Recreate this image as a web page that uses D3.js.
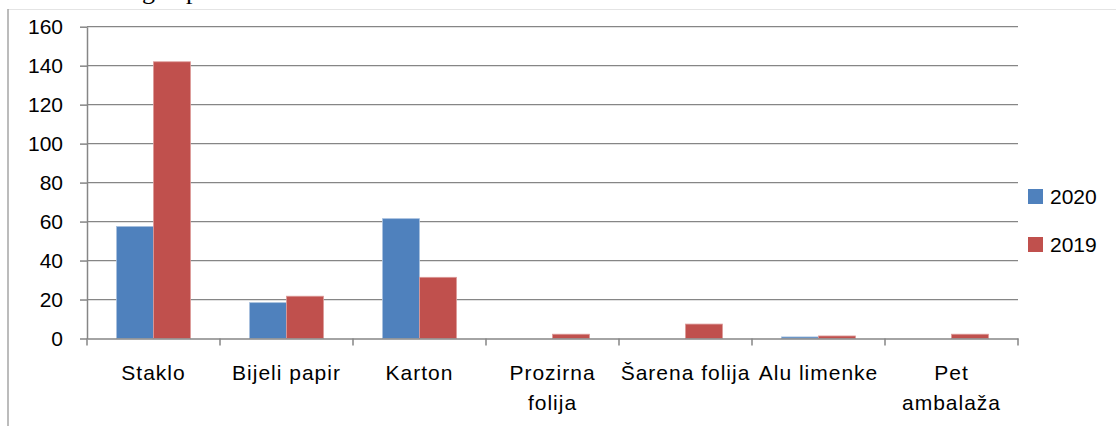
<meta charset="utf-8" />
<script src="https://d3js.org/d3.v7.min.js"></script>
<style>
  body { margin: 0; background: #fff; }
  svg text { font-family: "Liberation Sans", Arial, sans-serif; fill: #000; }
  .grid line { stroke: #868686; stroke-width: 1.3; }
  .axis path, .axis line { stroke: #868686; stroke-width: 1.5; }
</style>
<svg width="1116" height="426"></svg>
<script>
  // chart data
  var categories = ["Staklo", "Bijeli papir", "Karton", "Prozirna folija", "Šarena folija", "Alu limenke", "Pet ambalaža"];
  var labelLines = [["Staklo"], ["Bijeli papir"], ["Karton"], ["Prozirna", "folija"], ["Šarena folija"], ["Alu limenke"], ["Pet", "ambalaža"]];
  var seriesNames = ["2020", "2019"];
  var values2020 = [57.5, 18.4, 61.5, 0, 0, 0.8, 0];
  var values2019 = [142, 21.7, 31.4, 2.2, 7.4, 1.3, 2.2];
  var yTicks = [0, 20, 40, 60, 80, 100, 120, 140, 160];
  var colors = ["#4F81BD", "#C0504D"];

  var svg = d3.select("svg");
  var margin = { top: 26.7, left: 87, right: 98, bottom: 87.5 };
  var width = 1116 - margin.left - margin.right,
    height = 426 - margin.top - margin.bottom;

  // frame of the page clip
  svg.append("line").attr("x1", 8).attr("x2", 1116).attr("y1", 9.5).attr("y2", 9.5)
    .attr("stroke", "#e4e4e4").attr("stroke-width", 1);
  svg.append("line").attr("x1", 8).attr("x2", 8).attr("y1", 9).attr("y2", 426)
    .attr("stroke", "#a6a6a6").attr("stroke-width", 1.5);
  // cut-off caption remains
  svg.append("text").attr("x", 142).attr("y", -1).style("font-family", "Liberation Serif")
    .style("font-size", "26px").text("g");
  svg.append("text").attr("x", 186).attr("y", -1).style("font-family", "Liberation Serif")
    .style("font-size", "26px").text("p");

  var g = svg.append("g").attr("transform", "translate(" + margin.left + "," + margin.top + ")");

  var x = d3.scaleBand().domain(categories).range([0, width]).paddingInner(0).paddingOuter(0);
  var x1 = d3.scaleBand().domain(seriesNames).range([0, x.bandwidth() * 0.556])
  var y = d3.scaleLinear().domain([0, 160]).range([height, 0]);

  g.append("g").attr("class", "grid")
    .selectAll("line").data(yTicks.slice(1)).enter().append("line")
    .attr("x1", 0).attr("x2", width)
    .attr("y1", function (d) { return y(d); }).attr("y2", function (d) { return y(d); });

  var data = categories.map(function (c, i) {
    return { cat: c, vals: [values2020[i], values2019[i]] };
  });
  var groupOffset = (x.bandwidth() - x1.range()[1]) / 2;

  var grp = g.selectAll(".grp").data(data).enter().append("g")
    .attr("transform", function (d) { return "translate(" + (x(d.cat) + groupOffset) + ",0)"; });
  grp.selectAll("rect").data(function (d) {
    return d.vals.map(function (v, j) { return { s: seriesNames[j], v: v, j: j }; });
  }).enter().append("rect")
    .attr("x", function (d) { return x1(d.s); })
    .attr("width", x1.bandwidth())
    .attr("y", function (d) { return y(d.v); })
    .attr("height", function (d) { return height - y(d.v); })
    .attr("fill", function (d) { return colors[d.j]; })
    .attr("stroke", function (d) { return d.j === 0 ? "#a7c0de" : "#dc9a98"; })
    .attr("stroke-width", 0.8);

  // y axis
  var yAxis = g.append("g").attr("class", "axis")
    .call(d3.axisLeft(y).tickValues(yTicks).tickSize(7).tickSizeOuter(0).tickPadding(17));
  yAxis.selectAll("text").style("font-size", "21px");

  // x axis
  var xAxis = g.append("g").attr("class", "axis").attr("transform", "translate(0," + height + ")")
    .call(d3.axisBottom(x).tickSize(0).tickSizeOuter(0).tickFormat(""));
  xAxis.selectAll(".sep").data(d3.range(categories.length + 1)).enter().append("line")
    .attr("class", "sep")
    .attr("x1", function (i) { return i * x.bandwidth(); })
    .attr("x2", function (i) { return i * x.bandwidth(); })
    .attr("y1", 0).attr("y2", 7);

  var lbl = g.append("g").selectAll("text").data(categories).enter().append("text")
    .attr("text-anchor", "middle")
    .style("font-size", "21px").style("letter-spacing", "1px")
    .attr("transform", function (d) { return "translate(" + (x(d) + x.bandwidth() / 2) + "," + (height + 41.5) + ")"; });
  lbl.selectAll("tspan").data(function (d, i) { return labelLines[i]; }).enter().append("tspan")
    .attr("x", 0).attr("dy", function (d, i) { return i === 0 ? 0 : 30; })
    .text(function (d) { return d; });

  // legend
  var leg = svg.append("g").attr("transform", "translate(1028,189)");
  var li = leg.selectAll("g").data(seriesNames).enter().append("g")
    .attr("transform", function (d, i) { return "translate(0," + i * 48 + ")"; });
  li.append("rect").attr("width", 15).attr("height", 15)
    .attr("fill", function (d, i) { return colors[i]; });
  li.append("text").attr("x", 22).attr("y", 14.5).style("font-size", "21px").text(function (d) { return d; });
</script>
